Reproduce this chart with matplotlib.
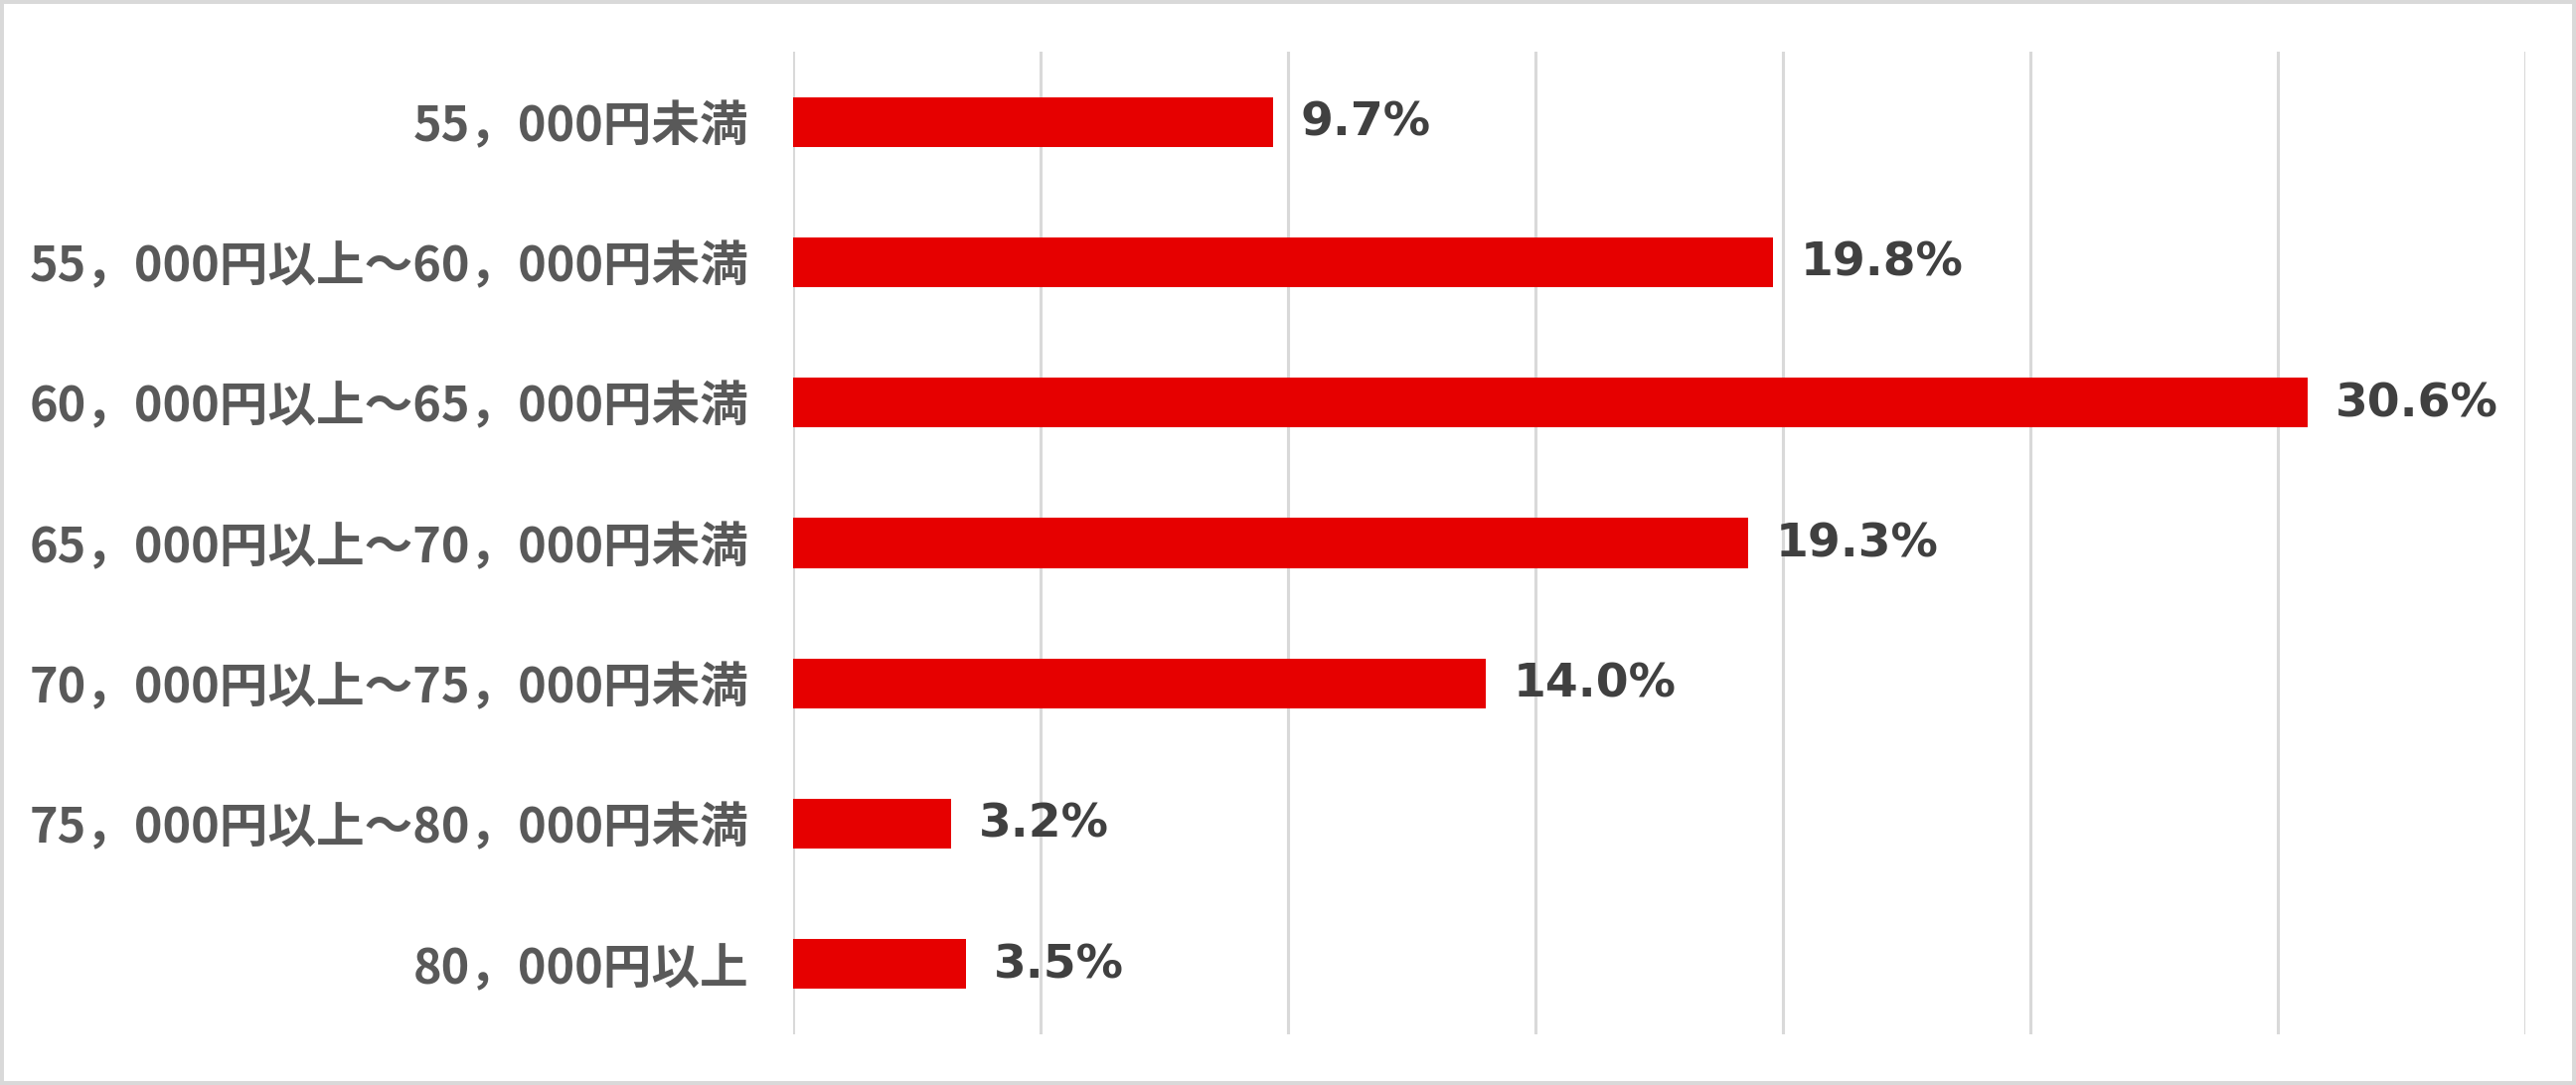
import matplotlib
matplotlib.use("Agg")
import matplotlib.pyplot as plt
import numpy as np

# Data
categories = [
    "55，000円未満",
    "55，000円以上～60，000円未満",
    "60，000円以上～65，000円未満",
    "65，000円以上～70，000円未満",
    "70，000円以上～75，000円未満",
    "75，000円以上～80，000円未満",
    "80，000円以上",
]
shares = [9.7, 19.8, 30.6, 19.3, 14.0, 3.2, 3.5]
value_labels = ["9.7%", "19.8%", "30.6%", "19.3%", "14.0%", "3.2%", "3.5%"]

BAR_COLOR = "#e60000"
GRID_COLOR = "#d9d9d9"

plt.rcParams['font.family'] = ['Noto Sans CJK JP', 'DejaVu Sans']

fig = plt.figure(figsize=(25.92, 10.92), dpi=100)
fig.patch.set_facecolor("white")
fig.patch.set_edgecolor(GRID_COLOR)
fig.patch.set_linewidth(4.5)

ax = fig.add_axes([0.3079, 0.0467, 0.9803 - 0.3079, 0.9524 - 0.0467])

y = np.arange(len(categories))
ax.barh(y, shares, height=0.355, color=BAR_COLOR, zorder=3)

# value labels to the right of each bar
for yi, v, lab in zip(y, shares, value_labels):
    ax.annotate(lab, xy=(v, yi), xytext=(20, -1), textcoords="offset points",
                ha="left", va="center", fontsize=34, fontweight="bold",
                color="#404040", family="DejaVu Sans")

ax.set_xlim(0, 35)
ax.set_ylim(len(categories) - 0.5, -0.5)
ax.set_xticks(np.arange(0, 36, 5))
ax.set_xticklabels([])
ax.tick_params(axis="x", length=0)
ax.grid(axis="x", color=GRID_COLOR, linewidth=2.2, zorder=0)

ax.set_yticks(y)
ax.set_yticklabels(categories, fontsize=35, fontweight="bold", color="#595959")
ax.tick_params(axis="y", length=0, pad=32)

for s in ax.spines.values():
    s.set_visible(False)

fig.savefig("out.png", dpi=100, facecolor=fig.get_facecolor(),
            edgecolor=fig.get_edgecolor())
